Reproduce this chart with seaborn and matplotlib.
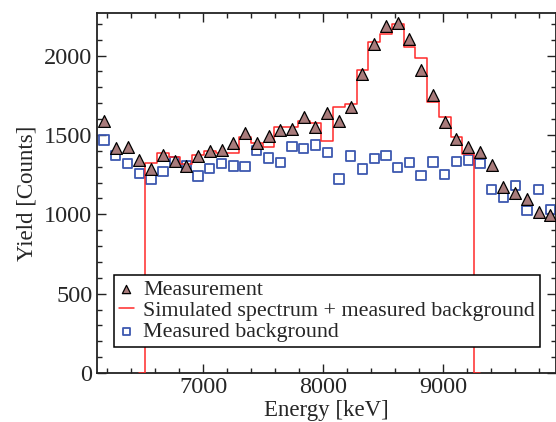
import matplotlib
matplotlib.use("Agg")
import matplotlib.pyplot as plt
import seaborn as sns
from matplotlib.ticker import MultipleLocator

# bin centres [keV]
energy = [6173, 6271, 6369, 6467, 6565, 6663, 6760, 6858, 6956, 7054,
          7152, 7250, 7348, 7446, 7544, 7642, 7739, 7837, 7935, 8033,
          8131, 8229, 8327, 8425, 8523, 8621, 8718, 8816, 8914, 9012,
          9110, 9208, 9306, 9404, 9502, 9600, 9697, 9795, 9893]

measurement = [1590, 1418, 1422, 1342, 1287, 1373, 1335, 1304, 1365, 1401,
               1403, 1451, 1515, 1447, 1494, 1532, 1536, 1612, 1553, 1640,
               1589, 1675, 1886, 2070, 2186, 2203, 2105, 1907, 1751, 1582,
               1475, 1426, 1394, 1310, 1175, 1133, 1095, 1013, 994]

background = [1468, 1369, 1321, 1257, 1219, 1270, 1333, 1304, 1242, 1289,
              1321, 1304, 1300, 1401, 1354, 1327, 1426, 1413, 1437, 1388,
              1222, 1367, 1285, 1352, 1371, 1293, 1325, 1244, 1329, 1249,
              1331, 1342, 1321, 1154, 1104, 1181, 1023, 1156, 1030]

# simulated spectrum + background, zero outside the simulated range
sim_energy = energy[3:33]
simulated = [0, 1321, 1384, 1359, 1314, 1371, 1401, 1384, 1384, 1485,
             1447, 1426, 1548, 1552, 1590, 1574, 1460, 1679, 1696, 1911,
             2084, 2133, 2196, 2054, 1985, 1709, 1612, 1489, 1377, 0]

sns.set_style("ticks")
plt.rcParams['font.family'] = ['Liberation Serif', 'DejaVu Serif']

fig = plt.figure(figsize=(5.56, 4.22), dpi=100)
ax = fig.add_axes([0.1736, 0.1161, 0.8264, 0.8538])

sns.scatterplot(x=energy, y=background, marker='s', s=45,
                facecolors='none', edgecolors='#3d58b0', linewidth=1.3,
                label='Measured background', ax=ax, zorder=2)
sns.lineplot(x=sim_energy, y=simulated, drawstyle='steps-mid', estimator=None,
             sort=False, color='#ff2a2a', linewidth=1.1,
             label='Simulated spectrum + measured background', ax=ax, zorder=3)
sns.scatterplot(x=energy, y=measurement, marker='^', s=72,
                color='#a87b7b', edgecolor='black', linewidth=0.9,
                label='Measurement', ax=ax, zorder=4)

ax.set_xlim(6110, 9940)
ax.set_ylim(0, 2270)
ax.xaxis.set_major_locator(MultipleLocator(1000))
ax.xaxis.set_minor_locator(MultipleLocator(200))
ax.yaxis.set_major_locator(MultipleLocator(500))
ax.yaxis.set_minor_locator(MultipleLocator(100))
ax.tick_params(which='both', direction='in', top=True, right=True,
               labelsize=17.5, width=1, color='#222222', pad=3)
ax.tick_params(which='major', length=6.5)
ax.tick_params(which='minor', length=3.5)
for sp in ax.spines.values():
    sp.set_linewidth(1.3)
    sp.set_color('#222222')

ax.set_xlabel('Energy [keV]', fontsize=16.5, labelpad=1)
ax.set_ylabel('Yield [Counts]', fontsize=16.5, labelpad=5)

h, l = ax.get_legend_handles_labels()
order = [2, 1, 0]
leg = ax.legend([h[i] for i in order], [l[i] for i in order],
                loc='lower left', bbox_to_anchor=(0.038, 0.072),
                borderaxespad=0, fancybox=False, framealpha=1,
                edgecolor='black', fontsize=15.8, handlelength=0.7,
                handletextpad=0.4, labelspacing=0.04, borderpad=0.22,
                markerscale=0.7)
leg.get_frame().set_linewidth(1.1)

fig.savefig('out.png', dpi=100)
